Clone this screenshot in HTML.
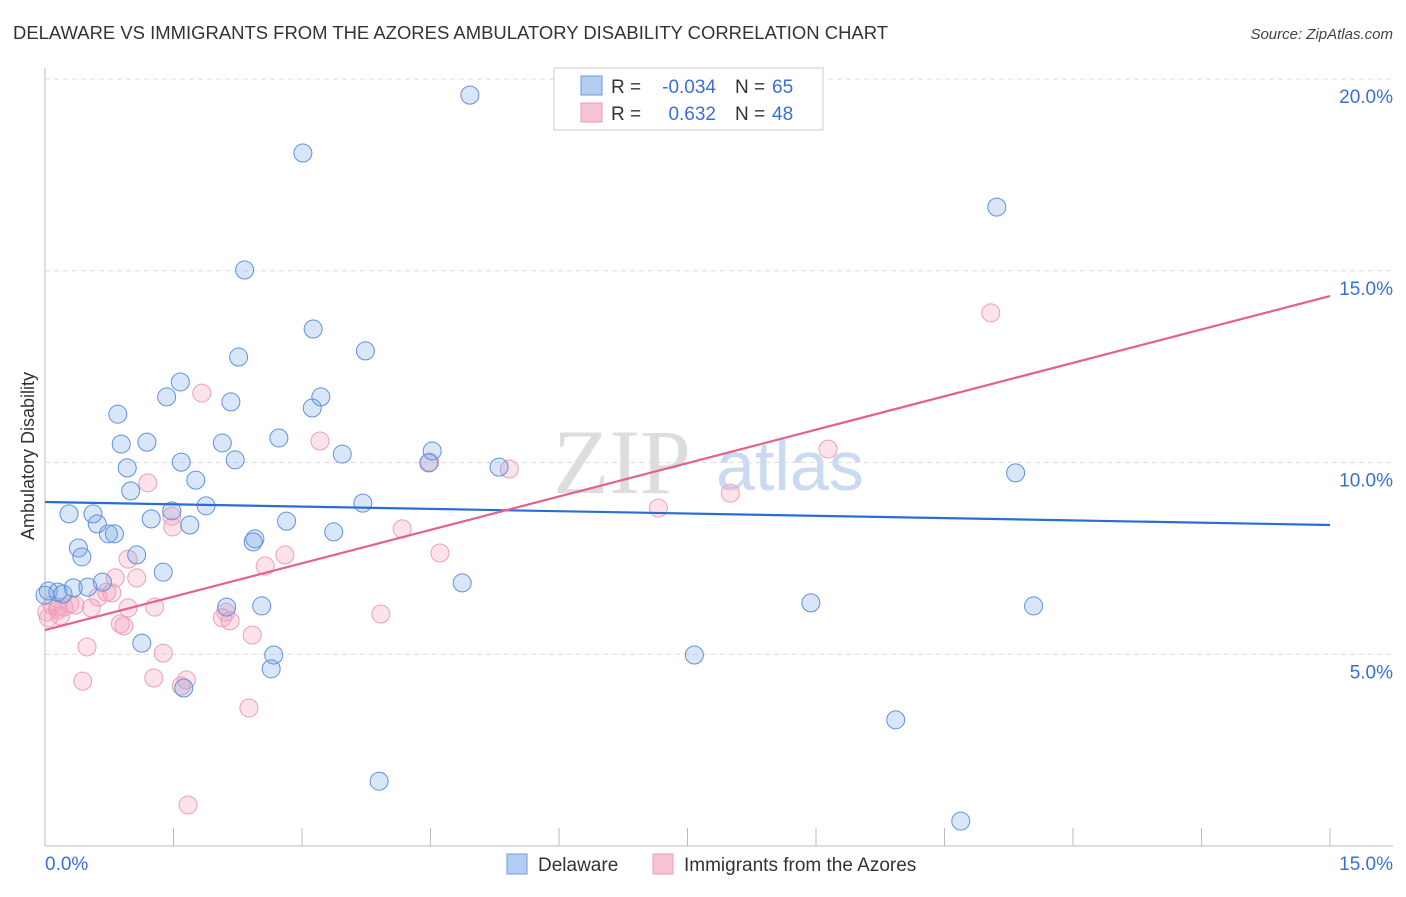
<!DOCTYPE html>
<html><head><meta charset="utf-8"><style>
body{margin:0;background:#fff;width:1406px;height:892px;overflow:hidden;font-family:"Liberation Sans",sans-serif}
</style></head><body>
<svg id="chart" width="1406" height="892" xmlns="http://www.w3.org/2000/svg" font-family="Liberation Sans, sans-serif">
<text x="13" y="39" font-size="18" fill="#333" textLength="875" lengthAdjust="spacingAndGlyphs">DELAWARE VS IMMIGRANTS FROM THE AZORES AMBULATORY DISABILITY CORRELATION CHART</text>
<text x="1393" y="39" font-size="15" fill="#444" font-style="italic" text-anchor="end">Source: ZipAtlas.com</text>
<g>
<text x="553" y="493" font-size="92" fill="#ddd" font-family="Liberation Serif, serif">ZIP</text>
<text x="716" y="490" font-size="70" fill="#c9daf2">atlas</text>
</g>
<g id="grid"></g>
<g id="axes"></g>
<g id="points"></g>
<g id="lines"></g>
<text transform="translate(34,456) rotate(-90)" font-size="18" fill="#333" text-anchor="middle">Ambulatory Disability</text>
<g>
<rect x="554" y="68" width="269" height="62" fill="#fff" stroke="#ccc"/>
<rect x="581" y="76" width="21" height="19" fill="#b4cdf2" stroke="#6b9be0"/>
<rect x="581" y="103" width="21" height="19" fill="#f8c3d3" stroke="#ec9ab4"/>
<text x="611" y="93" font-size="19" fill="#333">R =</text>
<text x="716" y="93" font-size="19" fill="#3a6fd8" text-anchor="end">-0.034</text>
<text x="735" y="93" font-size="19" fill="#333">N =</text>
<text x="772" y="93" font-size="19" fill="#3a6fd8">65</text>
<text x="611" y="120" font-size="19" fill="#333">R =</text>
<text x="716" y="120" font-size="19" fill="#3a6fd8" text-anchor="end">0.632</text>
<text x="735" y="120" font-size="19" fill="#333">N =</text>
<text x="772" y="120" font-size="19" fill="#3a6fd8">48</text>
</g>
<g>
<rect x="507" y="854" width="20" height="20" fill="#b4cdf2" stroke="#6b9be0"/>
<text x="538" y="871" font-size="19" fill="#333">Delaware</text>
<rect x="653" y="854" width="20" height="20" fill="#f8c3d3" stroke="#ec9ab4"/>
<text x="684" y="871" font-size="19" fill="#333">Immigrants from the Azores</text>
</g>
</svg>
<script>
const blueX=[4.96,3.01,11.11,2.33,3.13,3.74,2.26,1.58,1.42,3.22,3.12,2.17,0.85,0.89,1.19,2.07,2.73,4.52,4.48,3.47,2.22,1.59,0.96,5.30,11.33,1.76,1.00,3.71,1.88,0.28,0.56,1.48,1.24,0.61,1.69,2.82,0.74,0.81,3.37,2.45,2.43,0.39,0.43,1.07,1.38,4.87,0.67,0.33,0.50,0.04,0.15,0.21,0.00,8.94,11.54,2.12,2.53,1.13,2.67,7.58,2.64,1.62,9.93,3.90,10.69];
const blueY=[19.58,18.07,16.66,15.02,13.48,12.91,12.75,12.10,11.71,11.71,11.42,11.58,11.26,10.48,10.53,10.51,10.64,10.30,9.99,10.22,10.07,10.01,9.86,9.88,9.73,9.54,9.26,8.94,8.87,8.66,8.66,8.74,8.53,8.40,8.37,8.47,8.14,8.14,8.19,8.01,7.93,7.77,7.54,7.59,7.14,6.86,6.88,6.73,6.75,6.65,6.62,6.57,6.54,6.34,6.26,6.23,6.26,5.29,4.98,4.98,4.62,4.12,3.29,1.69,0.65];
const pinkX=[11.04,1.83,3.21,9.14,4.49,5.42,1.20,8.00,7.16,1.48,1.49,4.17,4.61,2.80,0.97,2.57,0.82,1.07,0.72,0.78,0.62,0.35,0.97,1.28,0.54,0.22,0.15,0.08,0.04,0.18,2.11,3.92,2.07,2.16,0.88,0.92,2.42,0.49,1.38,0.44,1.27,1.65,1.59,2.38,1.67,0.15,0.02,0.29];
const pinkY=[13.90,11.81,10.56,10.35,10.01,9.83,9.47,9.20,8.81,8.60,8.32,8.27,7.64,7.59,7.48,7.30,6.99,6.99,6.62,6.60,6.49,6.28,6.21,6.23,6.21,6.23,6.15,6.28,5.95,6.00,6.10,6.05,5.95,5.87,5.79,5.74,5.50,5.19,5.03,4.30,4.38,4.33,4.17,3.60,1.07,6.23,6.10,6.31];
const blueTrend=[8.97,8.37];
const pinkTrend=[5.63,14.34];
const yTicks=[5,10,15,20];
const yTickLabels=["5.0%","10.0%","15.0%","20.0%"];
const xTickValues=[0,1.5,3,4.5,6,7.5,9,10.5,12,13.5,15];
const xMin=0,xMax=15,yMin=0,yMax=20;
const X=v=>45+(v-xMin)/(xMax-xMin)*1285;
const Y=v=>846-(v-yMin)/(yMax-yMin)*767;
const NS="http://www.w3.org/2000/svg";
function mk(tag,attrs,parent){const e=document.createElementNS(NS,tag);for(const k in attrs)e.setAttribute(k,attrs[k]);document.getElementById(parent).appendChild(e);return e;}
yTicks.forEach((t,i)=>{
 const g=mk('line',{x1:45,x2:1393,y1:Y(t),y2:Y(t),stroke:'#ddd','stroke-dasharray':'5,4'},'grid');
 
 
 const l=mk('text',{x:1393,y:Y(t)+24,'font-size':19,fill:'#3a6fd8','text-anchor':'end'},'axes');
 l.textContent=yTickLabels[i];
 
 
});
const ya=mk('line',{x1:45,x2:45,y1:68,y2:846,stroke:'#bbb'},'axes');


const xa=mk('line',{x1:45,x2:1393,y1:846,y2:846,stroke:'#bbb'},'axes');


xTickValues.forEach(t=>{
 const tk=mk('line',{x1:X(t),x2:X(t),y1:828,y2:846,stroke:'#bbb'},'axes');
 
 
});
const xl0=mk('text',{x:45,y:870,'font-size':19,fill:'#3a6fd8'},'axes');xl0.textContent='0.0%';


const xl1=mk('text',{x:1393,y:870,'font-size':19,fill:'#3a6fd8','text-anchor':'end'},'axes');xl1.textContent='15.0%';


pinkX.forEach((v,i)=>{
 const c=mk('circle',{cx:X(v),cy:Y(pinkY[i]),r:9,fill:'rgba(242,160,188,0.3)',stroke:'#eda0b8','stroke-width':1},'points');
 
 
});
blueX.forEach((v,i)=>{
 const c=mk('circle',{cx:X(v),cy:Y(blueY[i]),r:9,fill:'rgba(120,165,230,0.28)',stroke:'#5f92dc','stroke-width':1},'points');
 
 
});
const bl=mk('line',{x1:X(xMin),y1:Y(blueTrend[0]),x2:X(xMax),y2:Y(blueTrend[1]),stroke:'#2a6dd6','stroke-width':2.2},'lines');


const pl=mk('line',{x1:X(xMin),y1:Y(pinkTrend[0]),x2:X(xMax),y2:Y(pinkTrend[1]),stroke:'#e4608e','stroke-width':2.2},'lines');


</script>
</body></html>
